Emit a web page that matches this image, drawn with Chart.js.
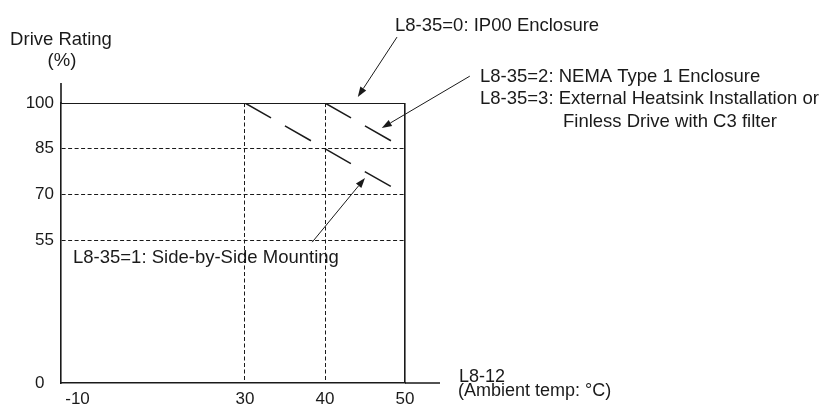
<!DOCTYPE html>
<html>
<head>
<meta charset="utf-8">
<script src="https://cdn.jsdelivr.net/npm/chart.js@4.4.1/dist/chart.umd.min.js"></script>
<style>
  html, body { margin: 0; padding: 0; background: #fff; }
  #wrap { width: 823px; height: 405px; position: relative; }
</style>
</head>
<body>
<div id="wrap"><canvas id="derateChart"></canvas></div>
<script>
// Данные
const tempTicks = [-10, 30, 40, 50];       // ось X, °C
const ratingTicks = [0, 55, 70, 85, 100];  // ось Y, %

const ip00Temp = [-10, 50];
const ip00Rating = [100, 100];

const nemaTemp = [40, 50];
const nemaRating = [100, 85];

const sideTemp = [30, 50];
const sideRating = [100, 70];

// стрелки-выноски: [x хвоста, y хвоста, x острия, y острия] в единицах осей
const arrowIp00 = [49, 121.6, 44.1, 102];
const arrowNema = [58.1, 108.8, 47.1, 91.8];
const arrowSide = [38.4, 54.3, 45, 75.4];

const INK = '#1a1a1a';
const FONT = '"Liberation Sans", Arial, sans-serif';

// Шкала с "разрывом": участок ниже breakAt сжат в squeeze раз
class BrokenScale extends Chart.LinearScale {
    squash(v) {
        const b = this.options.breakAt, k = this.options.squeeze;
        return v < b ? b - (b - v) * k : v;
    }
    unsquash(v) {
        const b = this.options.breakAt, k = this.options.squeeze;
        return v < b ? b - (b - v) / k : v;
    }
    getPixelForValue(value) {
        const lo = this.squash(this.min), hi = this.squash(this.max);
        return this.getPixelForDecimal((this.squash(value) - lo) / (hi - lo));
    }
    getValueForPixel(pixel) {
        const lo = this.squash(this.min), hi = this.squash(this.max);
        return this.unsquash(lo + this.getDecimalForPixel(pixel) * (hi - lo));
    }
}
BrokenScale.id = 'broken';
BrokenScale.defaults = Chart.LinearScale.defaults;
Chart.register(BrokenScale);

const toPoints = (xs, ys) => xs.map((x, i) => ({ x: x, y: ys[i] }));

// Подписи, стрелки и продолжения осей
const notesPlugin = {
    id: 'notes',
    afterDraw(chart) {
        const ctx = chart.ctx;
        const area = chart.chartArea;
        const xs = chart.scales.x, ys = chart.scales.y;

        ctx.save();
        ctx.strokeStyle = INK;
        ctx.lineWidth = 1.6;
        ctx.beginPath();
        ctx.moveTo(area.left, area.top);
        ctx.lineTo(area.left, area.top - 20);
        ctx.moveTo(area.right, area.bottom);
        ctx.lineTo(area.right + 35, area.bottom);
        ctx.stroke();

        // стрелки
        [arrowIp00, arrowNema, arrowSide].forEach(a => {
            const x1 = xs.getPixelForValue(a[0]), y1 = ys.getPixelForValue(a[1]);
            const x2 = xs.getPixelForValue(a[2]), y2 = ys.getPixelForValue(a[3]);
            const ang = Math.atan2(y2 - y1, x2 - x1);
            const len = 10, half = 3.5;
            ctx.lineWidth = 1;
            ctx.beginPath();
            ctx.moveTo(x1, y1);
            ctx.lineTo(x2 - Math.cos(ang) * len, y2 - Math.sin(ang) * len);
            ctx.stroke();
            ctx.fillStyle = INK;
            ctx.beginPath();
            ctx.moveTo(x2, y2);
            ctx.lineTo(x2 - Math.cos(ang) * len - Math.sin(ang) * half, y2 - Math.sin(ang) * len + Math.cos(ang) * half);
            ctx.lineTo(x2 - Math.cos(ang) * len + Math.sin(ang) * half, y2 - Math.sin(ang) * len - Math.cos(ang) * half);
            ctx.closePath();
            ctx.fill();
        });

        // тексты
        ctx.fillStyle = INK;
        ctx.font = '18.5px ' + FONT;
        ctx.textBaseline = 'alphabetic';
        ctx.textAlign = 'center';
        ctx.fillText('Drive Rating', area.left, 45);
        ctx.fillText('(%)', area.left + 1, 66);
        ctx.textAlign = 'left';
        ctx.fillText('L8-35=0: IP00 Enclosure', 395, 31);
        ctx.fillText('L8-35=2: NEMA Type 1 Enclosure', 480, 82);
        ctx.fillText('L8-35=3: External Heatsink Installation or', 480, 104);
        ctx.fillText('Finless Drive with C3 filter', 563, 127);
        ctx.fillText('L8-35=1: Side-by-Side Mounting', 73, 263);
        ctx.font = '18px ' + FONT;
        ctx.fillText('L8-12', 459, 382);
        ctx.fillText('(Ambient temp: \u00B0C)', 458, 396);
        ctx.restore();
    }
};

window.onload = function() {
    const ctx = document.getElementById('derateChart').getContext('2d');
    new Chart(ctx, {
        type: 'line',
        data: {
            datasets: [{
                label: 'L8-35=0: IP00 Enclosure',
                data: toPoints(ip00Temp, ip00Rating),
                borderColor: INK,
                borderWidth: 1.9,
                pointRadius: 0
            }, {
                label: 'L8-35=2/3: NEMA Type 1 / External Heatsink / Finless',
                data: toPoints(nemaTemp, nemaRating),
                borderColor: INK,
                borderWidth: 1.5,
                borderDash: [30, 16],
                pointRadius: 0
            }, {
                label: 'L8-35=1: Side-by-Side Mounting',
                data: toPoints(sideTemp, sideRating),
                borderColor: INK,
                borderWidth: 1.5,
                borderDash: [30, 16],
                pointRadius: 0
            }]
        },
        options: {
            responsive: true,
            maintainAspectRatio: false,
            animation: false,
            layout: { padding: { top: 103, right: 418, left: 0, bottom: 0 } },
            plugins: {
                legend: { display: false },
                tooltip: { enabled: false }
            },
            scales: {
                x: {
                    type: 'broken',
                    breakAt: 30,
                    squeeze: 0.575,
                    min: -10,
                    max: 50,
                    afterBuildTicks: s => { s.ticks = tempTicks.map(v => ({ value: v })); },
                    afterFit: s => { s.height = 22; },
                    ticks: {
                        autoSkip: false,
                        maxRotation: 0,
                        padding: 6,
                        color: INK,
                        font: { family: FONT, size: 17 },
                        // "-10" в оригинале сдвинут вправо от оси
                        callback: v => v === -10 ? '       -10' : String(v)
                    },
                    grid: {
                        drawTicks: false,
                        color: c => (c.tick && c.tick.value === -10) ? 'rgba(0,0,0,0)' : INK,
                        lineWidth: c => (c.tick && c.tick.value === 50) ? 1.6 : 1
                    },
                    border: {
                        display: true,
                        color: INK,
                        width: 1.6,
                        dash: c => (c.tick && c.tick.value === 50) ? [] : [4, 2.5]
                    }
                },
                y: {
                    type: 'broken',
                    breakAt: 55,
                    squeeze: 0.85,
                    min: 0,
                    max: 100,
                    afterBuildTicks: s => { s.ticks = ratingTicks.map(v => ({ value: v })); },
                    afterFit: s => { s.width = 61; },
                    ticks: {
                        padding: 7,
                        color: INK,
                        font: { family: FONT, size: 17 },
                        callback: v => v === 0 ? '0  ' : String(v)
                    },
                    grid: {
                        drawTicks: false,
                        color: c => (c.tick && (c.tick.value === 0 || c.tick.value === 100)) ? 'rgba(0,0,0,0)' : INK,
                        lineWidth: 1
                    },
                    border: {
                        display: true,
                        color: INK,
                        width: 1.6,
                        dash: [4, 2.5]
                    }
                }
            }
        },
        plugins: [notesPlugin]
    });
};
</script>
</body>
</html>
